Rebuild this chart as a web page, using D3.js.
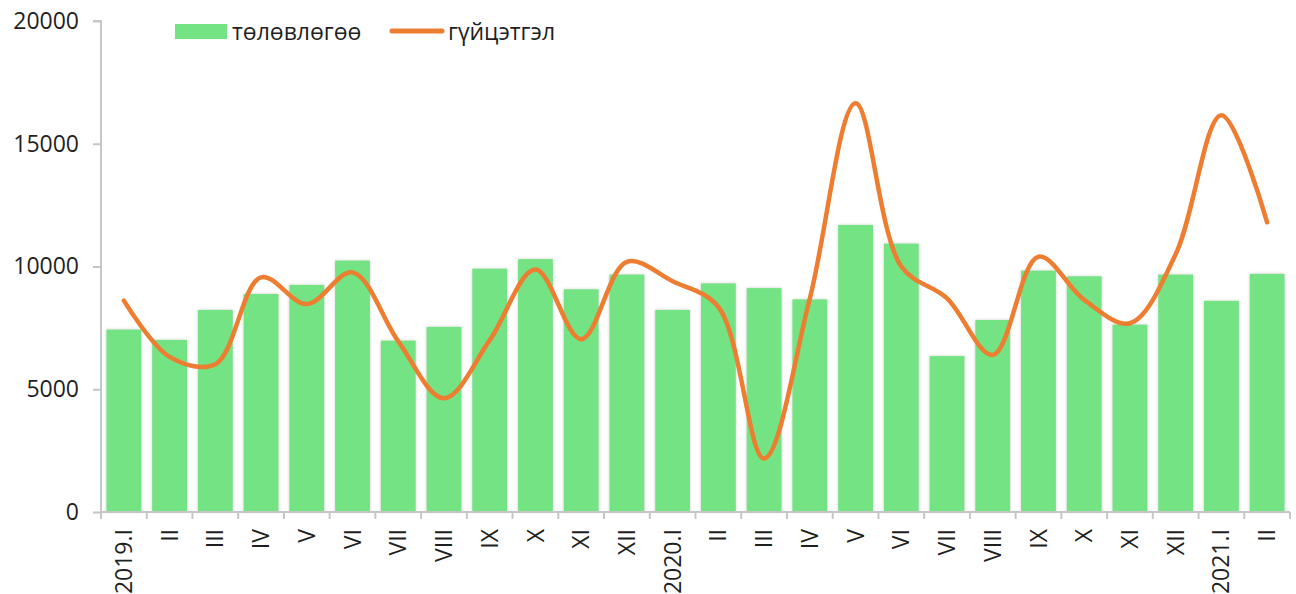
<!DOCTYPE html>
<html>
<head>
<meta charset="utf-8">
<script src="https://cdn.jsdelivr.net/npm/d3@7"></script>
<style>
  body { margin: 0; background: #fff; }
  svg { display: block; font-family: "Open Sans", sans-serif; }
</style>
</head>
<body>
<div id="chart"></div>
<script>
// month labels along the x axis
var tickLabels = ["2019.I", "II", "III", "IV", "V", "VI", "VII", "VIII", "IX", "X", "XI", "XII",
  "2020.I", "II", "III", "IV", "V", "VI", "VII", "VIII", "IX", "X", "XI", "XII",
  "2021.I", "II"];

// төлөвлөгөө (bars)
var planValues = [7430, 7010, 8230, 8880, 9250, 10240, 6980, 7540, 9910, 10300, 9070, 9670,
  8230, 9310, 9120, 8660, 11690, 10930, 6350, 7820, 9830, 9600, 7630, 9670,
  8600, 9700];

// гүйцэтгэл (line)
var actualValues = [8610, 6320, 6020, 9560, 8470, 9760, 6950, 4630, 7000, 9880, 7040, 10190,
  9400, 8350, 2180, 8700, 16650, 10000, 8700, 6400, 10400, 8640, 7690, 10500,
  16160, 11800];

var yTicks = [0, 5000, 10000, 15000, 20000];
var seriesNames = ["төлөвлөгөө", "гүйцэтгэл"];

var svgWidth = 1296;
var svgHeight = 594;
var margin = { top: 21, right: 6, bottom: 82, left: 101 };
var width = svgWidth - margin.left - margin.right;
var height = svgHeight - margin.top - margin.bottom;
var fontSize = 23;

var svg = d3.select("#chart")
  .append("svg")
  .attr("width", svgWidth)
  .attr("height", svgHeight);

// soft shadow round the bars
var defs = svg.append("defs");
var shadow = defs.append("filter")
  .attr("id", "barShadow")
  .attr("x", "-20%").attr("y", "-5%")
  .attr("width", "140%").attr("height", "110%");
shadow.append("feDropShadow")
  .attr("dx", 0).attr("dy", 0)
  .attr("stdDeviation", 1.6)
  .attr("flood-color", "#8a8a8a")
  .attr("flood-opacity", 0.45);

var chartGroup = svg.append("g")
  .attr("transform", `translate(${margin.left}, ${margin.top})`);

var indexes = d3.range(tickLabels.length);

var xScale = d3.scaleBand()
  .domain(indexes)
  .range([0, width])
  .paddingInner(0.24)
  .paddingOuter(0.12);

var yScale = d3.scaleLinear()
  .domain([0, 20000])
  .range([height, 0]);

// bars
chartGroup.append("g")
  .attr("filter", "url(#barShadow)")
  .selectAll("rect")
  .data(planValues)
  .enter()
  .append("rect")
  .attr("x", function(d, i) { return xScale(i); })
  .attr("y", function(d) { return yScale(d); })
  .attr("width", xScale.bandwidth())
  .attr("height", function(d) { return height - yScale(d); })
  .attr("fill", "#73e383");

// axes
var leftAxis = d3.axisLeft(yScale)
  .tickValues(yTicks)
  .tickSize(8)
  .tickPadding(14)
  .tickFormat(d3.format("d"));

var yAxisGroup = chartGroup.append("g").call(leftAxis);

var bottomAxis = d3.axisBottom(xScale)
  .tickSize(0)
  .tickPadding(0)
  .tickFormat(function(i) { return tickLabels[i]; });

var xAxisGroup = chartGroup.append("g")
  .attr("transform", `translate(0, ${height})`)
  .call(bottomAxis);

// tick marks between categories
xAxisGroup.selectAll(".sep")
  .data(d3.range(tickLabels.length + 1))
  .enter()
  .append("line")
  .attr("class", "sep")
  .attr("x1", function(i) { return i * xScale.step(); })
  .attr("x2", function(i) { return i * xScale.step(); })
  .attr("y1", 0)
  .attr("y2", 7);

xAxisGroup.selectAll(".tick text")
  .attr("transform", "rotate(-90)")
  .attr("text-anchor", "end")
  .attr("x", -17)
  .attr("y", 0)
  .attr("dy", "0.35em");

[yAxisGroup, xAxisGroup].forEach(function(g) {
  g.select(".domain")
    .attr("stroke", "#c6c6c6")
    .attr("stroke-width", 2);
  g.selectAll("line")
    .attr("stroke", "#c6c6c6")
    .attr("stroke-width", 2);
  g.selectAll("text")
    .attr("fill", "#1f1f1f")
    .attr("font-size", fontSize)
    .attr("font-family", "'Open Sans', sans-serif");
});
yAxisGroup.select(".domain").attr("d", `M-8,0H0V${height}`);
xAxisGroup.select(".domain").attr("d", `M0,0H${width}`);

// line
var line = d3.line()
  .x(function(d, i) { return xScale(i) + xScale.bandwidth() / 2; })
  .y(function(d) { return yScale(d); })
  .curve(d3.curveCatmullRom.alpha(0.5));

chartGroup.append("path")
  .datum(actualValues)
  .attr("d", line)
  .attr("fill", "none")
  .attr("stroke", "#ed7d31")
  .attr("stroke-width", 4.5)
  .attr("stroke-linecap", "round")
  .attr("stroke-linejoin", "round");

// legend
var legend = svg.append("g");

legend.append("rect")
  .attr("x", 175)
  .attr("y", 24)
  .attr("width", 52)
  .attr("height", 15)
  .attr("fill", "#73e383");

legend.append("text")
  .attr("x", 232)
  .attr("y", 32)
  .attr("dy", "0.35em")
  .attr("font-size", fontSize)
  .attr("fill", "#1f1f1f")
  .text(seriesNames[0]);

legend.append("line")
  .attr("x1", 392)
  .attr("x2", 442)
  .attr("y1", 31)
  .attr("y2", 31)
  .attr("stroke", "#ed7d31")
  .attr("stroke-width", 5)
  .attr("stroke-linecap", "round");

legend.append("text")
  .attr("x", 448)
  .attr("y", 32)
  .attr("dy", "0.35em")
  .attr("font-size", fontSize)
  .attr("fill", "#1f1f1f")
  .text(seriesNames[1]);
</script>
</body>
</html>
